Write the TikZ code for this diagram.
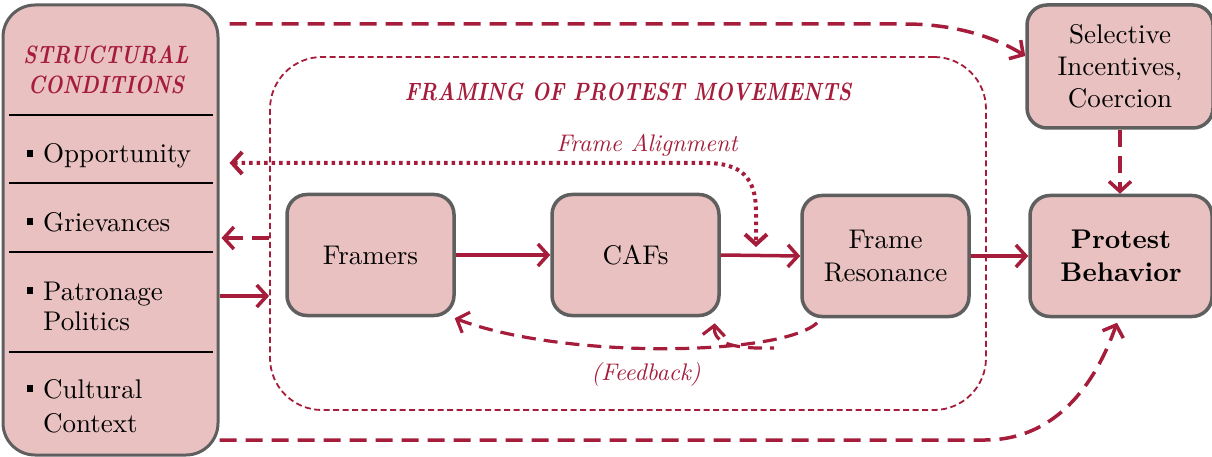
\documentclass[tikz,border=0pt]{standalone}
\usepackage{fontspec}
\setmainfont{lmroman10-regular.otf}[
  BoldFont=lmroman10-bold.otf,
  ItalicFont=lmroman10-italic.otf,
  BoldItalicFont=lmroman10-bolditalic.otf]
\usetikzlibrary{arrows.meta}
\definecolor{boxfill}{HTML}{E9C1C1}
\definecolor{boxline}{HTML}{5F5F5F}
\definecolor{wine}{HTML}{A51D3B}
\newcommand{\narrow}[1]{\scalebox{0.82}[1]{#1}}
\begin{document}
\begin{tikzpicture}[x=1pt,y=-1pt,
  box/.style={draw=boxline, fill=boxfill, line width=3.5pt, rounded corners=20pt,
    align=center, inner sep=0pt, font=\fontsize{27}{33}\selectfont},
  region/.style={draw=wine, line width=1.8pt, dash pattern=on 6pt off 3.5pt,
    rounded corners=52pt, inner sep=0pt},
  barb/.style={-{Straight Barb[length=10pt,width=22pt]}},
  rbarb/.style={{Straight Barb[length=10pt,width=22pt]}-},
  flow/.style={draw=wine, line width=3.5pt, barb},
  bigdash/.style={draw=wine, line width=3.5pt, dash pattern=on 17pt off 9pt, barb},
  fbdash/.style={draw=wine, line width=3.2pt, dash pattern=on 14pt off 8pt, rbarb},
  dots/.style={draw=wine, line width=4pt, dash pattern=on 3.5pt off 4pt,
    {Straight Barb[length=10pt,width=22pt]}-{Straight Barb[length=10pt,width=22pt]}},
  divider/.style={draw=black, line width=2pt},
  item/.style={anchor=base west, inner sep=0pt, font=\fontsize{27}{30}\selectfont},
  bullet/.style={fill=black, inner sep=0pt, minimum size=6.5pt},
  heading/.style={text=wine, font=\fontsize{25}{30}\selectfont\bfseries\itshape, align=center, inner sep=0pt},
  note/.style={text=wine, font=\fontsize{24}{28}\selectfont\itshape, inner sep=0pt}
]
\useasboundingbox (0,0) rectangle (1212,457);

% structural conditions column
\node[box, line width=3pt, rounded corners=32pt, minimum width=215pt, minimum height=450pt] (sc) at (110.5,230) {};
\node[heading] (sct) at (106,70) {\narrow{STRUCTURAL}\\\narrow{CONDITIONS}};
\foreach \yy in {115,183,252,352}
  \draw[divider] (9,\yy) -- (213,\yy);
\foreach \name/\txt/\base in {op/Opportunity/163, gr/Grievances/231, pa/Patronage/300, cu/Cultural/398} {
  \node[item] (\name) at (43,\base) {\txt};
  \node[bullet] (\name b) at (30,\base-9.5) {};
}
\node[item] (po) at (43,330) {Politics};
\node[item] (co) at (43,432) {Context};

% framing region
\node[region, minimum width=716pt, minimum height=353pt] (fr) at (628,233.5) {};
\node[heading] (frt) at (628,92) {\narrow{FRAMING OF PROTEST MOVEMENTS}};

% process boxes
\node[box, minimum width=167pt, minimum height=121pt] (fw) at (370.5,255) {Framers};
\node[box, minimum width=167pt, minimum height=121pt] (caf) at (635.5,255) {CAFs};
\node[box, minimum width=167pt, minimum height=121pt] (res) at (885.5,256) {Frame\\Resonance};
\node[box, minimum width=186pt, minimum height=123pt, font=\fontsize{27}{32}\selectfont] (sel) at (1120,66.5) {Selective\\Incentives,\\Coercion};
\node[box, minimum width=182pt, minimum height=121pt, font=\fontsize{27}{33}\selectfont\bfseries] (pb) at (1121,256) {Protest\\Behavior};

% main flow
\draw[flow] (fw.east) -- (caf.west);
\draw[flow] (caf.east) -- (res.west);
\draw[flow] (res.east) -- (pb.west);
\draw[flow] (sc.east |- 0,296) -- (fr.west |- 0,296);
\draw[bigdash] (fr.west |- 0,238) -- ([xshift=2pt]sc.east |- 0,238);

% frame alignment loop
\coordinate (alnend) at (756,247);
\draw[dots] ([xshift=10pt]sc.east |- 0,163) -- (705,163)
  .. controls (742,163) and (756,178) .. (756,212) -- (alnend);
\node[note] (aln) at (647,145) {Frame Alignment};

% feedback (drawn from the arrow end so each tip sits on a dash)
\coordinate (fbstart) at (818,322);
\coordinate (fbjoin) at (774,348);
\draw[fbdash] ([xshift=-1pt,yshift=-1pt]fw.south east) .. controls (565,360) and (785,356) .. (fbstart);
\draw[fbdash] ([xshift=-6pt,yshift=-6pt]caf.south east) .. controls (713,344) and (735,349) .. (fbjoin);
\node[note] (fb) at (646,374) {(Feedback)};

% outer dashed paths
\draw[bigdash] ([xshift=10pt]sc.east |- 0,24) -- (905,24)
  .. controls (960,24) and (1000,40) .. (sel.west |- 0,56);
\draw[bigdash] (sel.south) -- (sel.south |- pb.north);
\draw[bigdash] (sc.east |- 0,440) -- (985,440)
  .. controls (1055,440) and (1095,385) .. ([xshift=-4pt,yshift=-4.5pt]pb.south);
\end{tikzpicture}
\end{document}
